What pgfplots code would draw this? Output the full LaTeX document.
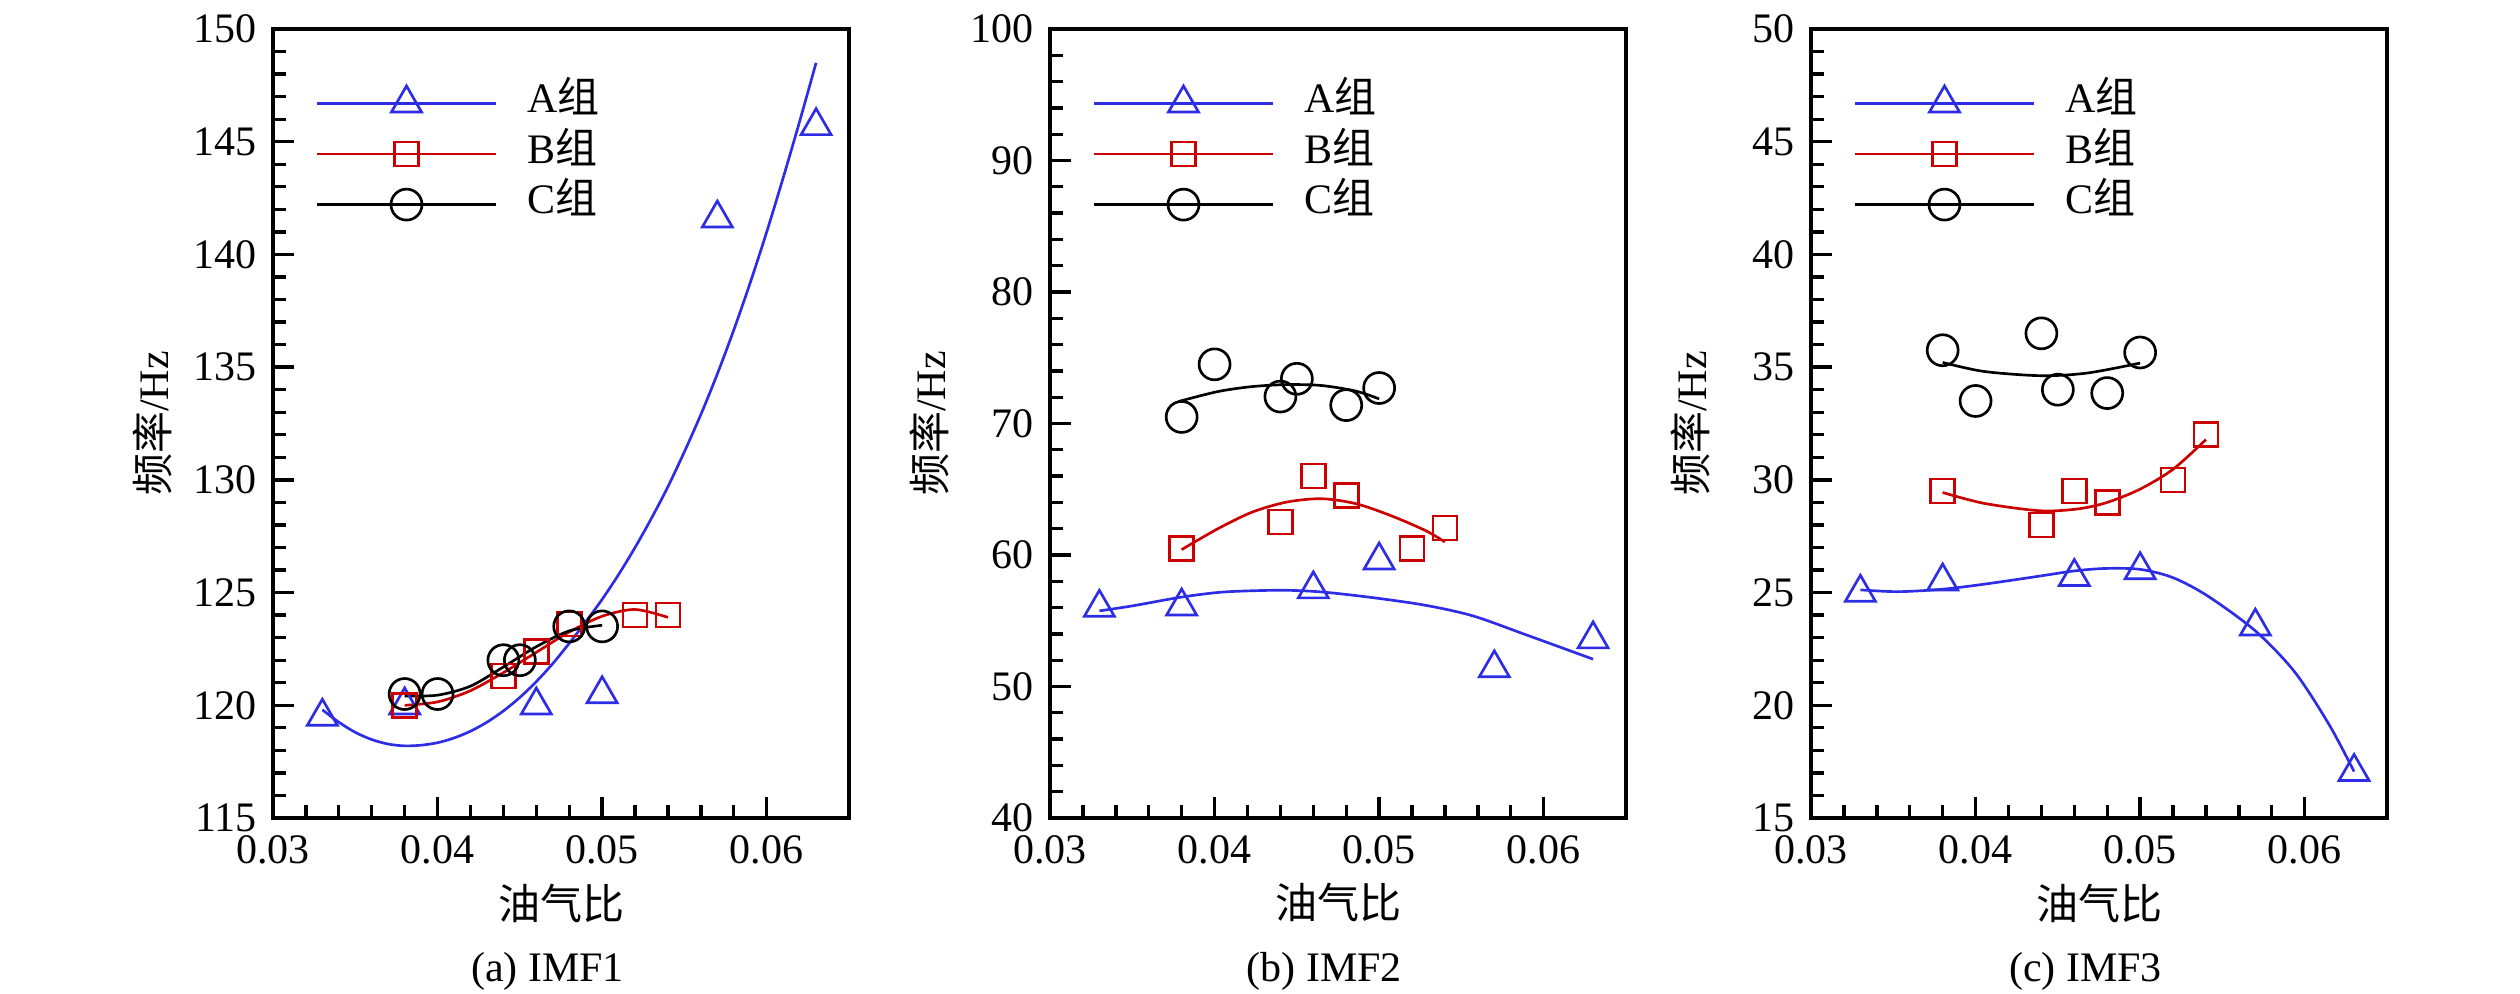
\documentclass[border=0pt]{standalone}
\usepackage{fontspec}
\setmainfont{Liberation Serif}
\newfontfamily\cjk{Noto Sans CJK SC}
\usepackage{pgfplots}
\pgfplotsset{compat=1.18}
\definecolor{cA}{RGB}{45,45,230}
\definecolor{cB}{RGB}{204,0,0}
\pgfplotsset{
  myaxis/.style={
    scale only axis, width=172.8pt, height=236.7pt,
    anchor=south west,
    xmin=0.03, xmax=0.065,
    xtick={0.03,0.04,0.05,0.06},
    xticklabels={0.03,0.04,0.05,0.06},
    scaled x ticks=false,
    minor x tick num=4,
    minor y tick num=4,
    tick pos=left, tick align=inside,
    major tick length=6.3pt, minor tick length=3.8pt,
    every tick/.style={black, line width=1pt},
    axis line style={line width=1.25pt},
    font=\fontsize{12.6}{15}\selectfont,
    /pgf/number format/assume math mode=true,
    xticklabel style={yshift=-1.8pt},
    yticklabel style={xshift=-1.3pt},
    xlabel={\cjk 油气比},
    ylabel={{\cjk 频率}/Hz},
    xlabel style={at={(axis description cs:0.5,-0.1077)}, anchor=center},
    ylabel style={at={(axis description cs:-0.2101,0.5)}, anchor=center},
    title style={at={(axis description cs:0.4765,-0.1939)}, anchor=center, yshift=-6pt},
    legend style={at={(axis description cs:0.0729,0.931)}, anchor=north west,
      draw=none, fill=none, inner sep=0pt, row sep=3.7pt, column sep=9pt,
      nodes={inner sep=0pt, text height=8.5pt, text depth=3pt},
      font=\fontsize{12.6}{15}\selectfont},
    legend cell align=left,
    legend image code/.code={\draw[mark repeat=2, mark phase=2] plot coordinates {(0pt,0pt) (26.85pt,0pt) (53.7pt,0pt)};},
  },
  curveA/.style={cA, line width=0.8pt, smooth, no marks, forget plot},
  curveB/.style={cB, line width=0.8pt, smooth, no marks, forget plot},
  curveC/.style={black, line width=0.8pt, smooth, no marks, forget plot},
  markA/.style={cA, only marks, mark=triangle, mark size=5.2pt, mark options={solid, line width=0.8pt}, forget plot},
  markB/.style={cB, only marks, mark=square, mark size=3.6pt, mark options={solid, line width=0.8pt}, forget plot},
  markC/.style={black, only marks, mark=o, mark size=4.65pt, mark options={solid, line width=0.8pt}, forget plot},
  legA/.style={cA, line width=0.8pt, mark=triangle, mark size=5.2pt, mark options={solid}},
  legB/.style={cB, line width=0.8pt, mark=square, mark size=3.6pt, mark options={solid}},
  legC/.style={black, line width=0.8pt, mark=o, mark size=4.65pt, mark options={solid}},
}
\begin{document}
\begin{tikzpicture}
\path[use as bounding box] (0,0) rectangle (756pt,297.9pt);
% ---------------- (a) IMF1
\begin{axis}[myaxis, at={(81.9pt,52.5pt)}, ymin=115, ymax=150, ytick={115,120,125,130,135,140,145,150}, title={(a) IMF1}]
\addlegendimage{legA}\addlegendentry{A{\cjk 组}}
\addlegendimage{legB}\addlegendentry{B{\cjk 组}}
\addlegendimage{legC}\addlegendentry{C{\cjk 组}}
\addplot[curveA] coordinates {(0.033,119.8) (0.034,119.25) (0.035,118.8) (0.036,118.48) (0.037,118.28) (0.038,118.2) (0.039,118.23) (0.040,118.34) (0.041,118.55) (0.042,118.85) (0.043,119.25) (0.044,119.75) (0.045,120.35) (0.046,121.05) (0.047,121.85) (0.048,122.75) (0.049,123.7) (0.050,124.7) (0.051,125.8) (0.052,127.0) (0.053,128.3) (0.054,129.7) (0.055,131.25) (0.056,132.9) (0.057,134.7) (0.058,136.65) (0.059,138.75) (0.060,141.0) (0.061,143.4) (0.062,145.9) (0.063,148.5)};
\addplot[markA] coordinates {(0.033,119.5) (0.038,120.0) (0.046,120.0) (0.050,120.5) (0.057,141.6) (0.063,145.7)};
\addplot[curveB] coordinates {(0.038,120.0) (0.040,120.15) (0.042,120.65) (0.044,121.45) (0.046,122.35) (0.048,123.25) (0.050,123.95) (0.052,124.25) (0.054,123.9)};
\addplot[markB] coordinates {(0.038,120.0) (0.044,121.3) (0.046,122.4) (0.048,123.6) (0.052,124.0) (0.054,124.0)};
\addplot[curveC] coordinates {(0.038,120.41) (0.040,120.45) (0.042,120.85) (0.044,121.7) (0.046,122.6) (0.048,123.3) (0.050,123.55)};
\addplot[markC] coordinates {(0.038,120.5) (0.040,120.5) (0.044,122.0) (0.045,122.0) (0.048,123.5) (0.050,123.5)};
\end{axis}
% ---------------- (b) IMF2
\begin{axis}[myaxis, at={(315pt,52.5pt)}, ymin=40, ymax=100, ytick={40,50,60,70,80,90,100}, title={(b) IMF2}]
\addlegendimage{legA}\addlegendentry{A{\cjk 组}}
\addlegendimage{legB}\addlegendentry{B{\cjk 组}}
\addlegendimage{legC}\addlegendentry{C{\cjk 组}}
\addplot[curveA] coordinates {(0.033,55.75) (0.035,56.13) (0.038,56.8) (0.0406,57.19) (0.044,57.32) (0.0465,57.19) (0.0496,56.76) (0.0528,56.18) (0.0557,55.37) (0.059,53.9) (0.063,52.08)};
\addplot[markA] coordinates {(0.033,56.0) (0.038,56.1) (0.046,57.4) (0.050,59.6) (0.057,51.4) (0.063,53.6)};
\addplot[curveB] coordinates {(0.038,60.41) (0.0402,62.0) (0.0423,63.27) (0.0444,64.03) (0.0465,64.28) (0.0486,63.9) (0.0507,63.0) (0.0528,61.87) (0.054,60.99)};
\addplot[markB] coordinates {(0.038,60.5) (0.044,62.5) (0.046,66.0) (0.048,64.55) (0.052,60.5) (0.054,62.05)};
\addplot[curveC] coordinates {(0.0378,71.67) (0.0402,72.43) (0.0423,72.81) (0.0444,72.96) (0.0465,72.89) (0.0486,72.46) (0.050,71.87)};
\addplot[markC] coordinates {(0.038,70.5) (0.040,74.5) (0.044,72.05) (0.045,73.4) (0.048,71.4) (0.050,72.7)};
\end{axis}
% ---------------- (c) IMF3
\begin{axis}[myaxis, at={(543.3pt,52.5pt)}, ymin=15, ymax=50, ytick={15,20,25,30,35,40,45,50}, title={(c) IMF3}]
\addlegendimage{legA}\addlegendentry{A{\cjk 组}}
\addlegendimage{legB}\addlegendentry{B{\cjk 组}}
\addlegendimage{legC}\addlegendentry{C{\cjk 组}}
\addplot[curveA] coordinates {(0.033,25.12) (0.0353,25.04) (0.038,25.15) (0.0405,25.37) (0.0437,25.71) (0.046,25.96) (0.0479,26.07) (0.050,26.03) (0.052,25.66) (0.0541,24.85) (0.057,23.3) (0.0594,21.47) (0.0615,19.12) (0.063,17.06)};
\addplot[markA] coordinates {(0.033,25.0) (0.038,25.5) (0.046,25.7) (0.050,26.0) (0.057,23.5) (0.063,17.05)};
\addplot[curveB] coordinates {(0.038,29.44) (0.0405,28.96) (0.0439,28.63) (0.0462,28.71) (0.048,29.0) (0.050,29.59) (0.052,30.47) (0.054,31.79)};
\addplot[markB] coordinates {(0.038,29.5) (0.044,28.0) (0.046,29.5) (0.048,29.0) (0.052,30.0) (0.054,32.0)};
\addplot[curveC] coordinates {(0.038,35.21) (0.0405,34.81) (0.044,34.62) (0.0468,34.74) (0.050,35.18)};
\addplot[markC] coordinates {(0.038,35.75) (0.040,33.5) (0.044,36.5) (0.045,34.0) (0.048,33.85) (0.050,35.65)};
\end{axis}
\end{tikzpicture}
\end{document}
